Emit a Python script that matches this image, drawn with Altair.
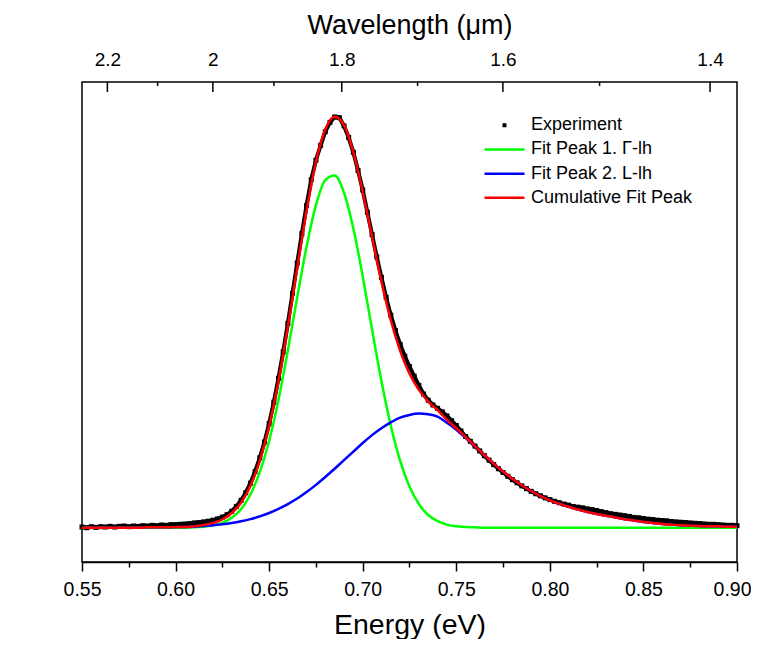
import altair as alt
import pandas as pd

HC = 1.23984  # eV*um, used for the wavelength axis

# ---------------- data ----------------
fit_energy = [round(0.55 + 0.005 * i, 3) for i in range(71)]
exp_energy = [round(0.55 + 0.0025 * i, 4) for i in range(141)]

exp_intensity = [
    0.02, 0.00, 0.03, 0.01, 0.03, 0.02, 0.04, 0.02, 0.04, 0.05,
    0.03, 0.05, 0.04, 0.06, 0.05, 0.07, 0.06, 0.08, 0.07, 0.09,
    0.09, 0.10, 0.11, 0.12, 0.14, 0.15, 0.17, 0.19, 0.22, 0.26,
    0.31, 0.38, 0.48, 0.62, 0.80, 1.02, 1.30, 1.64, 2.04, 2.50,
    3.04, 3.66, 4.36, 5.13, 5.96, 6.84, 7.72, 8.58, 9.40, 10.15,
    10.72, 11.15, 11.55, 11.82, 11.98, 11.96, 11.72, 11.38, 10.95, 10.42,
    9.85, 9.20, 8.55, 7.90, 7.30, 6.72, 6.20, 5.75, 5.35, 5.00,
    4.70, 4.42, 4.15, 3.90, 3.72, 3.58, 3.48, 3.38, 3.26, 3.12,
    2.98, 2.82, 2.66, 2.52, 2.38, 2.24, 2.10, 1.97, 1.84, 1.72,
    1.61, 1.50, 1.40, 1.31, 1.22, 1.14, 1.06, 0.99, 0.93, 0.87,
    0.82, 0.77, 0.73, 0.69, 0.66, 0.62, 0.60, 0.58, 0.55, 0.53,
    0.50, 0.47, 0.44, 0.41, 0.39, 0.37, 0.35, 0.33, 0.30, 0.29,
    0.27, 0.25, 0.24, 0.22, 0.21, 0.20, 0.18, 0.17, 0.16, 0.15,
    0.14, 0.13, 0.12, 0.11, 0.10, 0.10, 0.09, 0.08, 0.07, 0.07,
    0.06,
]

peak1 = [
    0.00, 0.00, 0.00, 0.00, 0.00, 0.00, 0.00, 0.00, 0.00, 0.00, 0.00,
    0.00, 0.01, 0.03, 0.07, 0.14, 0.29, 0.54, 0.97, 1.62, 2.53,
    3.73, 5.17, 6.72, 8.20, 9.41, 10.14, 10.27, 9.77, 8.73, 7.33,
    5.78, 4.28, 2.98, 1.95, 1.20, 0.69, 0.37, 0.19, 0.09, 0.04,
    0.02, 0.01, 0.00, 0.00, 0.00, 0.00, 0.00, 0.00, 0.00, 0.00,
    0.00, 0.00, 0.00, 0.00, 0.00, 0.00, 0.00, 0.00, 0.00, 0.00,
    0.00, 0.00, 0.00, 0.00, 0.00, 0.00, 0.00, 0.00, 0.00, 0.00,
]

peak2 = [
    0.00, 0.00, 0.00, 0.00, 0.00, 0.00, 0.00, 0.01, 0.01, 0.01, 0.02,
    0.02, 0.03, 0.05, 0.07, 0.10, 0.14, 0.19, 0.25, 0.33, 0.43,
    0.55, 0.69, 0.85, 1.04, 1.25, 1.48, 1.72, 1.97, 2.22, 2.47,
    2.70, 2.90, 3.07, 3.21, 3.29, 3.33, 3.31, 3.24, 3.06, 2.86,
    2.62, 2.37, 2.12, 1.87, 1.64, 1.43, 1.24, 1.07, 0.92, 0.80,
    0.70, 0.61, 0.53, 0.46, 0.40, 0.35, 0.30, 0.25, 0.21, 0.17,
    0.14, 0.11, 0.09, 0.07, 0.06, 0.05, 0.04, 0.04, 0.03, 0.03,
]

cumulative = [
    0.00, 0.00, 0.00, 0.00, 0.00, 0.00, 0.00, 0.01, 0.01, 0.01, 0.02,
    0.02, 0.04, 0.08, 0.14, 0.24, 0.43, 0.73, 1.22, 1.95, 2.96,
    4.28, 5.86, 7.57, 9.24, 10.66, 11.62, 11.99, 11.74, 10.95, 9.80,
    8.48, 7.18, 6.05, 5.16, 4.49, 4.02, 3.68, 3.43, 3.15, 2.90,
    2.64, 2.38, 2.12, 1.87, 1.64, 1.43, 1.24, 1.07, 0.92, 0.80,
    0.70, 0.61, 0.53, 0.46, 0.40, 0.35, 0.30, 0.25, 0.21, 0.17,
    0.14, 0.11, 0.09, 0.07, 0.06, 0.05, 0.04, 0.04, 0.03, 0.03,
]

series_names = ["Experiment", "Fit Peak 1. \u0393-lh", "Fit Peak 2. L-lh", "Cumulative Fit Peak"]
series_colors = ["#000000", "#00ff00", "#0000ff", "#ff0000"]
# legend glyphs: a small square for the data, a long stroke for the fits
series_symbols = ["M-0.15,-0.15H0.15V0.15H-0.15Z", "M-4,0H4", "M-4,0H4", "M-4,0H4"]

energy_ticks = [0.55, 0.575, 0.60, 0.625, 0.65, 0.675, 0.70, 0.725, 0.75,
                0.775, 0.80, 0.825, 0.85, 0.875, 0.90]
intensity_ticks = list(range(-1, 13))
wavelength_major = [2.2, 2.0, 1.8, 1.6, 1.4]
wavelength_minor = [2.1, 1.9, 1.7, 1.5]

# ---------------- tables ----------------
exp_df = pd.DataFrame({"E": exp_energy, "I": exp_intensity, "series": series_names[0]})
fit_dfs = [
    pd.DataFrame({"E": fit_energy, "I": vals, "series": name})
    for name, vals in zip(series_names[1:], [peak1, peak2, cumulative])
]
all_df = pd.concat([exp_df] + fit_dfs, ignore_index=True)
top_major_df = pd.DataFrame({"E": [HC / w for w in wavelength_major]})
top_minor_df = pd.DataFrame({"E": [HC / w for w in wavelength_minor]})

FONT = "Liberation Sans"
xscale = alt.Scale(domain=[0.55, 0.90], nice=False, zero=False)
yscale = alt.Scale(domain=[-1, 13], nice=False, zero=False)
cscale = alt.Scale(domain=series_names, range=series_colors)
sscale = alt.Scale(domain=series_names, range=series_symbols)

is_major = "abs(round(datum.value*20) - datum.value*20) < 0.01"
bottom_axis = alt.Axis(
    orient="bottom", values=energy_ticks,
    labelExpr=f"{is_major} ? format(datum.value, '.2f') : ''",
    tickSize={"condition": {"test": is_major, "value": 9}, "value": 5},
    labelOffset={"condition": {"test": "datum.value > 0.89", "value": -5}, "value": 0},
    tickWidth=1.5, tickColor="black", domainColor="black", domainWidth=1.5,
    labelFont=FONT, labelFontSize=19.5, labelColor="black", labelPadding=9,
    labelFlush=False, labelOverlap=False,
    title="Energy (eV)", titleFont=FONT, titleFontSize=28.5, titleFontWeight="normal",
    titleColor="black", titleBaseline="alphabetic", titleY=71, grid=False,
)
top_axis = alt.Axis(
    orient="top", values=[HC / w for w in wavelength_major],
    labelExpr="round(12.3984/datum.value)/10",
    ticks=False, tickSize=0, domain=False,
    labelFont=FONT, labelFontSize=19, labelColor="black", labelPadding=13,
    labelFlush=False, labelOverlap=False,
    title="Wavelength (\u03bcm)", titleFont=FONT, titleFontSize=27, titleFontWeight="normal",
    titleColor="black", titleBaseline="alphabetic", titleY=-49, grid=False,
)
left_axis = alt.Axis(
    values=intensity_ticks, labels=False, tickSize=9, tickWidth=1.5, tickColor="black",
    domainColor="black", domainWidth=1.5, grid=False,
    title="I (a.u.)", titleFont=FONT, titleFontSize=28, titleFontWeight="normal",
    titleColor="black", titleAngle=270, titleBaseline="middle", titleAlign="center",
    titleX=-55, titleY=238,
)

legend = alt.Legend(
    title=None, orient="none", legendX=413.5, legendY=34.25, padding=0,
    symbolSize=100, symbolStrokeWidth=2.5, symbolOpacity=1,
    labelFont=FONT, labelFontSize=18, labelColor="black", labelOffset=17.5,
    labelLimit=400, rowPadding=6.2,
)

exp_line = alt.Chart(exp_df).mark_line(color="black", strokeWidth=4).encode(
    x=alt.X("E:Q", scale=xscale, axis=bottom_axis),
    y=alt.Y("I:Q", scale=yscale, axis=left_axis),
)
exp_pts = alt.Chart(exp_df).mark_square(color="black", size=25, opacity=1).encode(
    x=alt.X("E:Q", scale=xscale, axis=None),
    y=alt.Y("I:Q", scale=yscale, axis=None),
)

fit_layers = [
    alt.Chart(df).mark_line(strokeWidth=2.5, interpolate="monotone", color=col).encode(
        x=alt.X("E:Q", scale=xscale, axis=None),
        y=alt.Y("I:Q", scale=yscale, axis=None),
    )
    for df, col in zip(fit_dfs, series_colors[1:])
]

# invisible point layer that only carries the legend
legend_layer = alt.Chart(all_df).mark_point(
    filled=False, opacity=0, size=100, strokeWidth=2.5
).encode(
    x=alt.X("E:Q", scale=xscale, axis=None),
    y=alt.Y("I:Q", scale=yscale, axis=None),
    color=alt.Color("series:N", scale=cscale, legend=legend),
    shape=alt.Shape("series:N", scale=sscale, legend=legend),
)

top_major = alt.Chart(top_major_df).mark_rule(color="black", strokeWidth=1.5).encode(
    x=alt.X("E:Q", scale=xscale, axis=top_axis),
    y=alt.value(0), y2=alt.value(10),
)
top_minor = alt.Chart(top_minor_df).mark_rule(color="black", strokeWidth=1.5).encode(
    x=alt.X("E:Q", scale=xscale, axis=None),
    y=alt.value(0), y2=alt.value(4),
)

chart = alt.layer(
    exp_line, exp_pts, *fit_layers, legend_layer, top_major, top_minor
).resolve_axis(
    x="independent"
).properties(
    width=655, height=480,
    padding={"left": 74, "top": 74, "right": 14, "bottom": 77},
    autosize=alt.AutoSizeParams(type="none"),
    background="white",
).configure_view(stroke="black", strokeWidth=1.5)

chart.save("out.html", embed_options={"renderer": "svg", "actions": False})
